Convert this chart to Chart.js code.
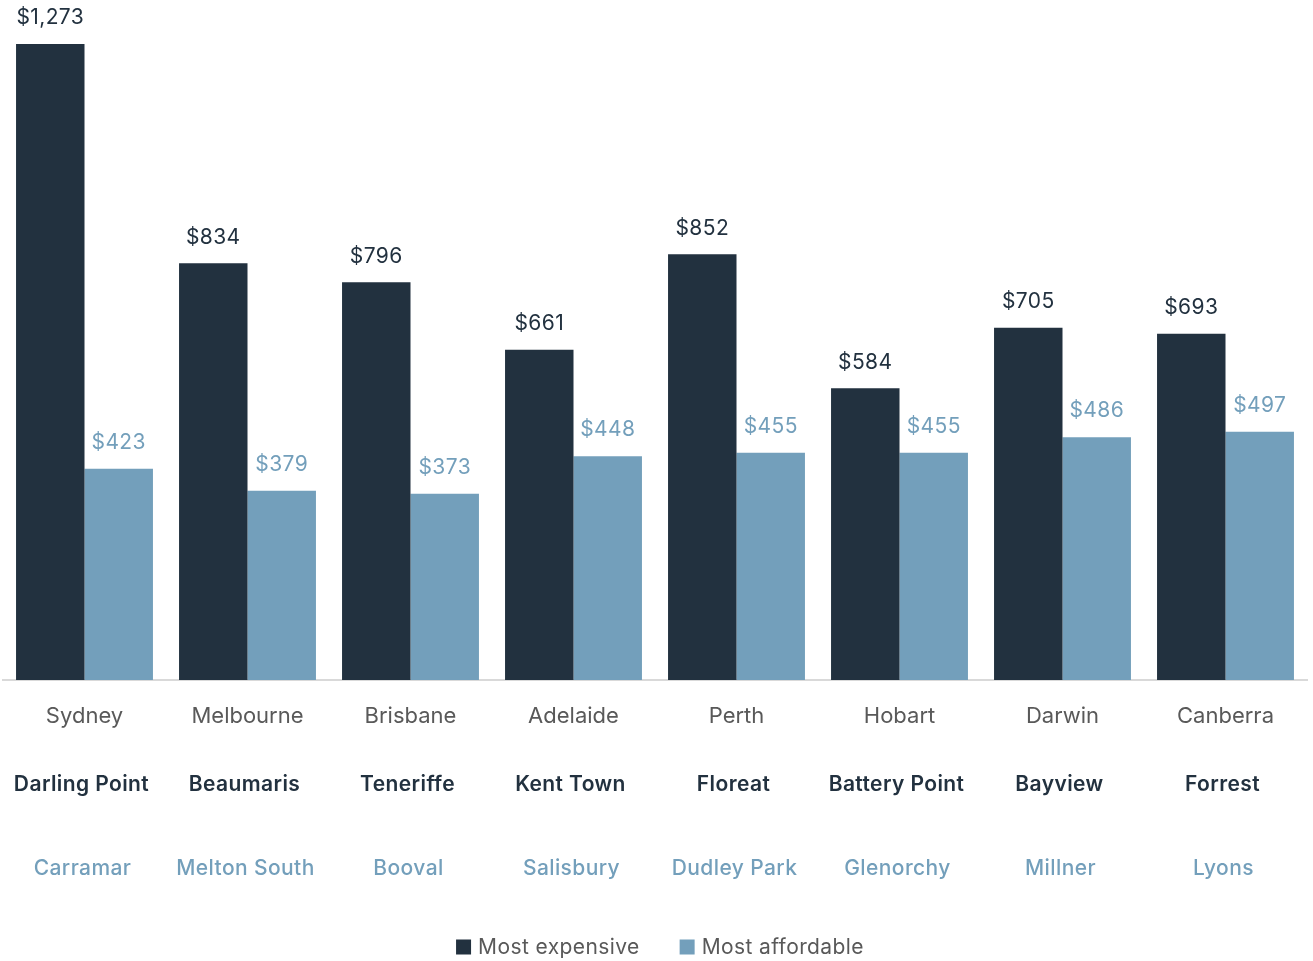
<!DOCTYPE html>
<html>
<head>
<meta charset="utf-8">
<script src="https://cdn.jsdelivr.net/npm/chart.js@4.4.1/dist/chart.umd.min.js"></script>
<style>
html,body{margin:0;padding:0;background:#fff;}
#wrap{width:1313px;height:961px;position:relative;}
</style>
</head>
<body>
<div id="wrap"><canvas id="c"></canvas></div>
<script>
const cities = ["Sydney","Melbourne","Brisbane","Adelaide","Perth","Hobart","Darwin","Canberra"];
const expensiveSuburbs = ["Darling Point","Beaumaris","Teneriffe","Kent Town","Floreat","Battery Point","Bayview","Forrest"];
const affordableSuburbs = ["Carramar","Melton South","Booval","Salisbury","Dudley Park","Glenorchy","Millner","Lyons"];
const mostExpensive = [1273, 834, 796, 661, 852, 584, 705, 693];
const mostAffordable = [423, 379, 373, 448, 455, 455, 486, 497];
const seriesNames = ["Most expensive","Most affordable"];

const DARK = "#22313f";
const LIGHT = "#739fbb";
const GRAY = "#595959";
const FONT = "Inter";

const extras = {
  id: "extras",
  afterDraw(chart) {
    const ctx = chart.ctx;
    const x = chart.scales.x;
    ctx.save();
    ctx.textAlign = "center";
    ctx.textBaseline = "middle";
    try { ctx.letterSpacing = "0.4px"; } catch (e) {}
    // value labels
    chart.data.datasets.forEach((ds, di) => {
      const meta = chart.getDatasetMeta(di);
      ctx.fillStyle = di === 0 ? DARK : LIGHT;
      ctx.font = "400 21px " + FONT;
      meta.data.forEach((bar, i) => {
        ctx.fillText("$" + ds.data[i].toLocaleString("en-US"), bar.x, bar.y - 26);
      });
    });
    // suburb rows
    cities.forEach((c, i) => {
      const px = x.getPixelForValue(i);
      ctx.font = "600 21px " + FONT;
      ctx.fillStyle = DARK;
      ctx.fillText(expensiveSuburbs[i], px - 3, 785);
      ctx.font = "500 21px " + FONT;
      ctx.fillStyle = LIGHT;
      ctx.fillText(affordableSuburbs[i], px - 2, 869);
    });
    // legend
    ctx.textAlign = "left";
    ctx.font = "400 21px " + FONT;
    const items = [[seriesNames[0], DARK], [seriesNames[1], LIGHT]];
    const widths = items.map(it => 15 + 7 + ctx.measureText(it[0]).width);
    const gap = 40;
    const total = widths[0] + widths[1] + gap;
    let lx = 660 - total / 2;
    const ly = 947;
    items.forEach((it, k) => {
      ctx.fillStyle = it[1];
      ctx.fillRect(lx, ly - 7.5, 15, 15);
      ctx.fillStyle = GRAY;
      ctx.fillText(it[0], lx + 22, ly + 1);
      lx += widths[k] + gap;
    });
    ctx.restore();
  }
};

new Chart(document.getElementById("c"), {
  type: "bar",
  data: {
    labels: cities,
    datasets: [
      { label: seriesNames[0], data: mostExpensive, backgroundColor: DARK, borderWidth: 0 },
      { label: seriesNames[1], data: mostAffordable, backgroundColor: LIGHT, borderWidth: 0 }
    ]
  },
  options: {
    responsive: true,
    maintainAspectRatio: false,
    animation: false,
    layout: { padding: { left: 3, right: 6, top: 0, bottom: 0 } },
    plugins: { legend: { display: false }, tooltip: { enabled: false } },
    datasets: { bar: { categoryPercentage: 0.84, barPercentage: 1.0 } },
    scales: {
      x: {
        grid: { display: false },
        border: { display: true, color: "#d9d9d9", width: 2 },
        ticks: { color: GRAY, font: { family: FONT, size: 22, weight: "400" }, padding: 15, maxRotation: 0 },
        afterFit(scale) { scale.height = 281; }
      },
      y: {
        display: false,
        min: 0,
        max: 1361
      }
    }
  },
  plugins: [extras]
});
</script>
</body>
</html>
